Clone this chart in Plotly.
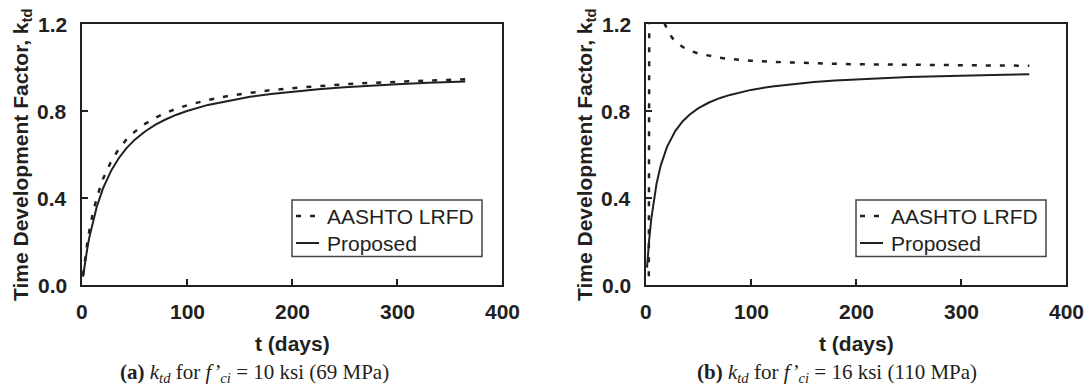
import plotly.graph_objects as go

# Age of concrete (days)
t_days = [1, 2, 3, 5, 7, 10, 14, 20, 28, 35, 42, 50, 60, 70, 80, 90, 100,
          120, 140, 160, 180, 200, 225, 250, 275, 300, 330, 365]

# (a) f'ci = 10 ksi
aashto_a = [0.045, 0.087, 0.125, 0.192, 0.250, 0.323, 0.400, 0.488, 0.571, 0.625,
            0.667, 0.704, 0.741, 0.769, 0.792, 0.811, 0.826, 0.851, 0.870, 0.884,
            0.896, 0.905, 0.915, 0.923, 0.929, 0.935, 0.940, 0.946]
proposed_a = [0.038, 0.074, 0.107, 0.167, 0.219, 0.286, 0.359, 0.444, 0.528, 0.583,
              0.627, 0.667, 0.706, 0.737, 0.762, 0.783, 0.800, 0.828, 0.848, 0.865,
              0.878, 0.889, 0.900, 0.909, 0.917, 0.923, 0.930, 0.936]

# (b) f'ci = 16 ksi: the AASHTO expression has a pole near t = 3 days
t_aashto_b = [1, 2, 4, 5, 7, 10, 14, 17, 20, 21, 25, 28, 35, 42, 50, 60, 70, 80,
              90, 100, 120, 150, 180, 200, 250, 300, 365]
aashto_b = [-0.50, -2.00, 4.00, 2.50, 1.75, 1.43, 1.27, 1.21, 1.176, 1.167, 1.136,
            1.120, 1.094, 1.077, 1.064, 1.053, 1.045, 1.039, 1.034, 1.031, 1.026,
            1.020, 1.017, 1.015, 1.012, 1.010, 1.008]
proposed_b = [0.080, 0.148, 0.207, 0.303, 0.378, 0.465, 0.549, 0.635, 0.709, 0.753,
              0.785, 0.813, 0.839, 0.859, 0.874, 0.887, 0.897, 0.913, 0.924, 0.933,
              0.940, 0.946, 0.951, 0.956, 0.960, 0.963, 0.966, 0.969]

x_ticks = [0, 100, 200, 300, 400]
x_tick_text = ["0", "100", "200", "300", "400"]
y_ticks = [0.0, 0.4, 0.8, 1.2]
y_tick_text = ["0.0", "0.4", "0.8", "1.2"]

legend_labels = ["AASHTO LRFD", "Proposed"]
captions = [
    "<b>(a)</b> <i>k<sub>td</sub></i> for <i>f’<sub>ci</sub></i> = 10 ksi (69 MPa)",
    "<b>(b)</b> <i>k<sub>td</sub></i> for <i>f’<sub>ci</sub></i> = 16 ksi (110 MPa)",
]

W, H = 1086, 385
INK = "#231f20"
SANS = "Liberation Sans, Arial, sans-serif"
SERIF = "Liberation Serif, Times New Roman, serif"


def fx(p):
    return p / W


def fy(p):
    return 1 - p / H


plot_left = [82, 646]
plot_w = 420
plot_top, plot_bottom = 24, 285
caption_x = [254, 837]

fig = go.Figure()

dash_style = dict(color=INK, width=2.5, dash="5px,9px")
solid_style = dict(color=INK, width=2)

fig.add_trace(go.Scatter(x=t_days, y=aashto_a, mode="lines", line=dash_style,
                         name=legend_labels[0], xaxis="x", yaxis="y"))
fig.add_trace(go.Scatter(x=t_days, y=proposed_a, mode="lines", line=solid_style,
                         name=legend_labels[1], xaxis="x", yaxis="y"))
fig.add_trace(go.Scatter(x=t_aashto_b, y=aashto_b, mode="lines", line=dash_style,
                         name=legend_labels[0], xaxis="x2", yaxis="y2"))
fig.add_trace(go.Scatter(x=t_days, y=proposed_b, mode="lines", line=solid_style,
                         name=legend_labels[1], xaxis="x2", yaxis="y2"))

common_x = dict(range=[0, 400], tickvals=x_ticks, ticks="inside", ticklen=6,
                tickwidth=2, tickcolor=INK, showline=True, linecolor=INK,
                linewidth=2, mirror=True, showgrid=False, zeroline=False,
                showticklabels=False, fixedrange=True)
common_y = dict(range=[0, 1.2], tickvals=y_ticks, ticks="inside", ticklen=6,
                tickwidth=2, tickcolor=INK, showline=True, linecolor=INK,
                linewidth=2, mirror=True, showgrid=False, zeroline=False,
                showticklabels=False, fixedrange=True)

y_dom = [1 - plot_bottom / H, 1 - plot_top / H]
fig.update_layout(
    width=W, height=H,
    margin=dict(l=0, r=0, t=0, b=0),
    paper_bgcolor="white", plot_bgcolor="white",
    showlegend=False,
    xaxis=dict(domain=[fx(plot_left[0]), fx(plot_left[0] + plot_w)], anchor="y", **common_x),
    yaxis=dict(domain=y_dom, anchor="x", **common_y),
    xaxis2=dict(domain=[fx(plot_left[1]), fx(plot_left[1] + plot_w)], anchor="y2", **common_x),
    yaxis2=dict(domain=y_dom, anchor="x2", **common_y),
)

annotations = []
shapes = []
bold_font = dict(family=SANS, size=21, color=INK, weight="bold")
for i, left in enumerate(plot_left):
    xr = "x" if i == 0 else "x2"
    yr = "y" if i == 0 else "y2"
    centre = left + plot_w / 2
    # tick labels, placed on the axis scales
    for v, lab in zip(x_ticks, x_tick_text):
        annotations.append(dict(text=lab, x=v, xref=xr, y=fy(311), yref="paper",
                                showarrow=False, font=bold_font,
                                xanchor="center", yanchor="middle"))
    for v, lab in zip(y_ticks, y_tick_text):
        annotations.append(dict(text=lab, x=fx(left - 13), xref="paper", y=v, yref=yr,
                                showarrow=False, font=bold_font,
                                xanchor="right", yanchor="middle"))
    # axis titles
    annotations.append(dict(text="Time Development Factor, k<sub>td</sub>",
                            x=fx(left - 60), y=fy(155), xref="paper", yref="paper",
                            textangle=-90, showarrow=False, font=bold_font,
                            xanchor="center", yanchor="middle"))
    annotations.append(dict(text="t (days)", x=fx(centre), y=fy(343),
                            xref="paper", yref="paper", showarrow=False,
                            font=bold_font, xanchor="center", yanchor="middle"))
    # panel caption
    annotations.append(dict(text=captions[i], x=fx(caption_x[i]), y=fy(373),
                            xref="paper", yref="paper", showarrow=False,
                            font=dict(family=SERIF, size=21, color=INK),
                            xanchor="center", yanchor="middle"))
    # legend box
    bx0, bx1 = left + 210, left + 400
    shapes.append(dict(type="rect", xref="paper", yref="paper",
                       x0=fx(bx0), x1=fx(bx1), y0=fy(256.5), y1=fy(200),
                       line=dict(color="#444444", width=1.5), fillcolor="white",
                       layer="above"))
    shapes.append(dict(type="line", xref="paper", yref="paper",
                       x0=fx(left + 214), x1=fx(left + 233), y0=fy(216), y1=fy(216),
                       line=dash_style, layer="above"))
    shapes.append(dict(type="line", xref="paper", yref="paper",
                       x0=fx(left + 214), x1=fx(left + 237), y0=fy(243), y1=fy(243),
                       line=solid_style, layer="above"))
    for j, lab in enumerate(legend_labels):
        annotations.append(dict(text=lab, x=fx(left + 243), y=fy(216 + 27 * j),
                                xref="paper", yref="paper", showarrow=False,
                                font=dict(family=SANS, size=21, color=INK),
                                xanchor="left", yanchor="middle"))

fig.update_layout(annotations=annotations, shapes=shapes)
fig.write_html("out.html")
